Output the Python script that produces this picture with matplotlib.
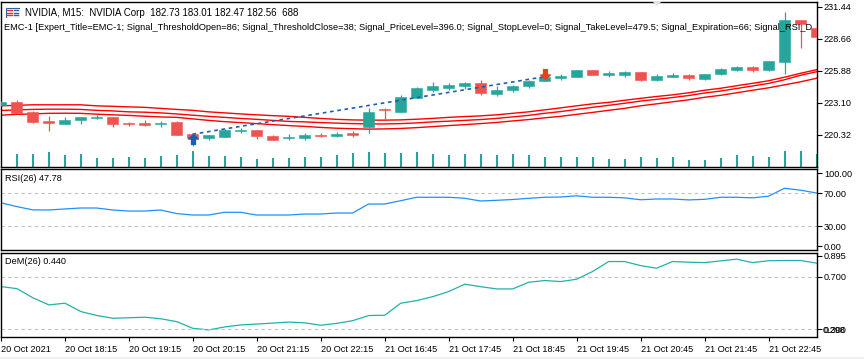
import matplotlib
matplotlib.use("Agg")
import matplotlib.pyplot as plt
from matplotlib.path import Path
from matplotlib.patches import Rectangle, Polygon

# ---------------- data ----------------
opens = [222.90, 223.19, 222.32, 221.54, 221.30, 221.65, 221.80, 221.88, 221.36, 221.39,
         221.30, 221.45, 220.38, 220.08, 220.17, 220.67, 220.73, 220.26, 220.03, 220.08,
         220.34, 220.23, 220.47, 220.99, 222.60, 222.34, 223.56, 224.23, 224.40, 224.58,
         224.86, 223.86, 224.17, 224.52, 224.95, 225.21, 225.30, 225.97, 225.47, 225.47,
         225.73, 225.10, 225.38, 225.53, 225.19, 225.56, 225.97, 226.17, 225.97, 226.64,
         230.25, 229.62]
highs = [223.22, 223.36, 222.38, 221.97, 221.86, 221.86, 222.08, 221.88, 221.45, 221.62,
         221.54, 221.54, 220.38, 220.32, 220.87, 220.94, 220.78, 220.34, 220.38, 220.47,
         220.47, 220.55, 220.64, 222.69, 222.66, 223.79, 224.46, 224.92, 224.86, 224.90,
         225.10, 224.52, 224.66, 225.10, 225.36, 225.56, 225.97, 225.97, 225.82, 225.82,
         225.73, 225.56, 225.71, 225.59, 225.62, 226.12, 226.29, 226.29, 226.75, 230.95,
         230.25, 229.70]
lows = [222.86, 222.14, 221.39, 220.70, 221.30, 221.30, 221.71, 220.97, 221.10, 221.10,
        220.97, 220.34, 219.36, 219.88, 220.17, 220.47, 219.99, 219.86, 219.88, 219.86,
        220.12, 220.12, 220.12, 220.47, 221.68, 222.34, 223.56, 224.03, 224.23, 224.34,
        223.79, 223.65, 224.03, 224.40, 224.95, 225.04, 225.30, 225.47, 225.38, 225.38,
        225.01, 225.01, 225.33, 225.12, 225.10, 225.52, 225.88, 225.73, 225.90, 225.62,
        227.85, 228.81]
closes = [223.19, 222.26, 221.48, 221.39, 221.62, 221.86, 221.91, 221.30, 221.27, 221.19,
          221.39, 220.34, 220.08, 220.32, 220.75, 220.75, 220.21, 219.91, 220.17, 220.34,
          220.21, 220.43, 220.32, 222.29, 222.49, 223.62, 224.40, 224.52, 224.66, 224.78,
          223.91, 224.23, 224.58, 225.01, 225.36, 225.42, 225.97, 225.47, 225.65, 225.73,
          225.10, 225.45, 225.53, 225.21, 225.62, 226.05, 226.17, 225.97, 226.75, 230.31,
          229.96, 228.81]
volumes = [636, 689, 689, 795, 636, 689, 477, 477, 530, 477, 583, 636, 848, 583, 583, 530,
           424, 477, 477, 530, 530, 636, 742, 795, 742, 742, 795, 689, 636, 689, 689, 636,
           689, 636, 530, 530, 530, 530, 424, 424, 530, 477, 530, 371, 371, 477, 636, 583,
           530, 848, 848, 688]
ma_upper = [222.84, 222.88, 222.93, 222.93, 222.93, 222.93, 222.84, 222.80, 222.75, 222.71,
            222.62, 222.53, 222.45, 222.32, 222.23, 222.14, 222.06, 221.99, 221.93, 221.84,
            221.75, 221.67, 221.62, 221.60, 221.60, 221.62, 221.68, 221.75, 221.84, 221.91,
            221.97, 222.06, 222.19, 222.32, 222.49, 222.66, 222.84, 223.01, 223.14, 223.32,
            223.49, 223.65, 223.79, 223.97, 224.19, 224.36, 224.58, 224.79, 225.01, 225.32,
            225.66, 225.97]
ma_middle = [222.43, 222.49, 222.53, 222.55, 222.55, 222.53, 222.45, 222.40, 222.32, 222.29,
             222.23, 222.14, 222.03, 221.93, 221.84, 221.75, 221.67, 221.58, 221.49, 221.45,
             221.39, 221.34, 221.30, 221.27, 221.27, 221.30, 221.36, 221.45, 221.51, 221.58,
             221.65, 221.75, 221.88, 222.01, 222.19, 222.34, 222.53, 222.71, 222.88, 223.06,
             223.25, 223.40, 223.56, 223.73, 223.95, 224.12, 224.34, 224.56, 224.78, 225.10,
             225.49, 225.79]
ma_lower = [222.03, 222.10, 222.14, 222.19, 222.20, 222.19, 222.12, 222.06, 222.01, 221.94,
            221.88, 221.84, 221.71, 221.58, 221.47, 221.39, 221.30, 221.21, 221.13, 221.06,
            220.97, 220.90, 220.86, 220.82, 220.84, 220.88, 220.95, 221.04, 221.13, 221.21,
            221.30, 221.40, 221.53, 221.65, 221.80, 221.93, 222.10, 222.27, 222.45, 222.62,
            222.84, 223.01, 223.19, 223.36, 223.58, 223.75, 223.97, 224.19, 224.40, 224.66,
            224.92, 225.23]
rsi = [58.6, 54.0, 50.0, 49.8, 51.0, 52.2, 52.2, 49.8, 48.5, 48.5, 49.8, 45.5, 43.7, 43.7,
       47.0, 47.0, 43.7, 43.7, 43.7, 44.9, 44.9, 46.1, 46.1, 57.0, 57.0, 61.0, 65.2, 65.2,
       65.2, 64.0, 60.7, 61.5, 62.5, 63.9, 65.2, 65.5, 67.0, 65.2, 65.2, 64.5, 62.2, 63.1,
       63.1, 62.0, 62.7, 65.2, 65.2, 64.5, 66.5, 76.1, 73.8, 70.4]
dem = [0.626, 0.610, 0.540, 0.486, 0.499, 0.435, 0.405, 0.384, 0.388, 0.392, 0.380, 0.358,
       0.307, 0.295, 0.318, 0.333, 0.340, 0.347, 0.355, 0.349, 0.331, 0.345, 0.366, 0.405,
       0.407, 0.499, 0.519, 0.549, 0.588, 0.644, 0.625, 0.608, 0.608, 0.659, 0.672, 0.664,
       0.682, 0.741, 0.817, 0.817, 0.786, 0.766, 0.817, 0.812, 0.809, 0.822, 0.835, 0.809,
       0.823, 0.825, 0.825, 0.805]
time_tick_bars = [0, 4, 8, 12, 16, 20, 24, 28, 32, 36, 40, 44, 48]
time_tick_labels = ["20 Oct 2021", "20 Oct 18:15", "20 Oct 19:15", "20 Oct 20:15",
                    "20 Oct 21:15", "20 Oct 22:15", "21 Oct 16:45", "21 Oct 17:45",
                    "21 Oct 18:45", "21 Oct 19:45", "21 Oct 20:45", "21 Oct 21:45",
                    "21 Oct 22:45"]
price_ticks = [231.44, 228.66, 225.88, 223.10, 220.32]
trade_bars = [12, 34]
trade_prices = [220.38, 225.36]
buy_arrow = (12, 220.00)
sell_arrow = (34, 225.58)
header1 = "NVIDIA, M15:  NVIDIA Corp  182.73 183.01 182.47 182.56  688"
header2 = ("EMC-1 [Expert_Title=EMC-1; Signal_ThresholdOpen=86; Signal_ThresholdClose=38; "
           "Signal_PriceLevel=396.0; Signal_StopLevel=0; Signal_TakeLevel=479.5; "
           "Signal_Expiration=66; Signal_RSI_D")

# ---------------- style ----------------
UP = "#26a69a"
DN = "#ef5350"
FONT = "Liberation Sans"
FS = 6.6
plt.rcParams["font.family"] = [FONT, "DejaVu Sans"]

W, H = 864, 359
fig = plt.figure(figsize=(W / 100, H / 100), dpi=100)
fig.patch.set_facecolor("white")
renderer = fig.canvas.get_renderer()

def add_ax(l, t, r, b, **kw):
    return fig.add_axes([l / W, 1 - b / H, (r - l) / W, (b - t) / H], **kw)

def fit_text(x_px, y_px, s, target_w, fs0):
    t = fig.text(x_px / W, 1 - y_px / H, s, fontsize=fs0, va="center", ha="left", zorder=10)
    w = t.get_window_extent(renderer).width
    t.set_fontsize(fs0 * target_w / w)
    return t

n = len(closes)
xs = list(range(n))
XL = (0.5 / 16, 816.5 / 16)
LEFT, RIGHT = 1, 817

def style_axis(ax):
    ax.set_xlim(*XL)
    for s in ax.spines.values():
        s.set_color("black")
        s.set_linewidth(1.0)
    ax.yaxis.tick_right()
    ax.tick_params(axis="y", direction="out", length=3.5, width=0.8, pad=1.5,
                   labelsize=FS, colors="black")
    ax.set_xticks([])

# ---- volume (behind) ----
axv = add_ax(LEFT, 1.5, RIGHT, 167)
axv.set_xlim(*XL)
axv.set_ylim(0, 53 * 165.5)
axv.vlines(xs, 0, volumes, color=UP, linewidth=1.5)
axv.axis("off")

# ---- main price ----
ax = add_ax(LEFT, 1.5, RIGHT, 167)
ax.set_facecolor("none")
style_axis(ax)
ax.set_ylim(217.54, 231.88)
ax.set_yticks(price_ticks)
ax.set_yticklabels([f"{p:.2f}" for p in price_ticks])

for y in (ma_upper, ma_middle, ma_lower):
    ax.plot(xs, y, color="red", linewidth=1.0, zorder=2)

body_w = 11 / 16
for i in range(n):
    o, h, l, c = opens[i], highs[i], lows[i], closes[i]
    col = UP if c >= o else DN
    ax.vlines(i, l, h, color=col, linewidth=0.9, zorder=3)
    lo, hi = min(o, c), max(o, c)
    ax.add_patch(Rectangle((i - body_w / 2, lo), body_w, max(hi - lo, 0.03),
                           facecolor=col, edgecolor=col, linewidth=0.4, zorder=4))

ax.plot(trade_bars, trade_prices, color="#1c5fb0", linewidth=1.2,
        dashes=(2.2, 2.2), zorder=5)

arrow_up = Path([(-1, 0.1), (0, 1), (1, 0.1), (0.4, 0.1), (0.4, -1), (-0.4, -1),
                 (-0.4, 0.1), (-1, 0.1)],
                [Path.MOVETO] + [Path.LINETO] * 6 + [Path.CLOSEPOLY])
arrow_dn = Path([(-1, -0.1), (0, -1), (1, -0.1), (0.4, -0.1), (0.4, 1), (-0.4, 1),
                 (-0.4, -0.1), (-1, -0.1)],
                [Path.MOVETO] + [Path.LINETO] * 6 + [Path.CLOSEPOLY])
ax.plot([buy_arrow[0]], [buy_arrow[1]], marker=arrow_up, markersize=7,
        color="#1c5fb0", linestyle="none", zorder=6)
ax.plot([sell_arrow[0]], [sell_arrow[1]], marker=arrow_dn, markersize=7,
        color="#e8401c", linestyle="none", zorder=6)

# header texts
fit_text(25, 12.5, header1, 276, FS)
fit_text(4, 27.5, header2, 812, FS)

# small icon
icon = fig.add_axes([5 / W, 1 - 18 / H, 15 / W, 11 / H])
icon.set_xlim(0, 15); icon.set_ylim(0, 11); icon.axis("off")
icon.add_patch(Rectangle((0.5, 0.5), 14, 10, facecolor="white", edgecolor="#3060a0", lw=0.8))
for yy in (3, 5.5, 8):
    icon.plot([2, 7], [yy, yy], color="#e03030", lw=1.0)
    icon.plot([8.5, 13], [yy, yy], color="#3060a0", lw=1.0)
# grey shift marker
fig.patches.append(Polygon([(652 / W, 1 - 1 / H), (662 / W, 1 - 1 / H), (657 / W, 1 - 6 / H)],
                           closed=True, transform=fig.transFigure,
                           facecolor="#e2e2e2", edgecolor="none"))

# ---- RSI ----
axr = add_ax(LEFT, 169.3, RIGHT, 250)
style_axis(axr)
axr.set_ylim(1.3, 99.1)
axr.plot(xs, rsi, color="#1e90ff", linewidth=0.9)
for lv in (70, 30):
    axr.axhline(lv, color="#c0c0c0", linewidth=0.8, dashes=(3, 3))
axr.set_yticks([94.2, 70, 30, 6.1])
axr.set_yticklabels(["100.00", "70.00", "30.00", "0.00"])
axr.text(4 / 816, 1 - (178.3 - 169.3) / 80.7, "RSI(26) 47.78", transform=axr.transAxes,
         fontsize=FS, va="center", ha="left")

# ---- DeM ----
axd = add_ax(LEFT, 252.5, RIGHT, 337)
style_axis(axd)
axd.set_ylim(0.241, 0.886)
axd.plot(xs, dem, color="#20b2aa", linewidth=0.9)
for lv in (0.7, 0.3):
    axd.axhline(lv, color="#c0c0c0", linewidth=0.8, dashes=(3, 3))
axd.set_yticks([0.862, 0.7, 0.3])
axd.set_yticklabels(["0.895", "0.700", "0.300"])
axd.text(1.0 + 6 / 816, 0.2885, "0.298", transform=axd.get_yaxis_transform(),
         fontsize=FS, va="center", ha="left", clip_on=False)
axd.text(4 / 816, 1 - (261.7 - 252.5) / 84.5, "DeM(26) 0.440", transform=axd.transAxes,
         fontsize=FS, va="center", ha="left")
axd.set_xticks(time_tick_bars)
axd.set_xticklabels(time_tick_labels, ha="left")
axd.tick_params(axis="x", direction="out", length=3, width=0.8, pad=2.5,
                labelsize=FS, colors="black")

# bottom status strip
fig.patches.append(Rectangle((0, 0), 1, 2.5 / H, transform=fig.transFigure,
                             facecolor="#f0f0f0", edgecolor="none"))

fig.savefig("out.png", dpi=100, facecolor="white")
